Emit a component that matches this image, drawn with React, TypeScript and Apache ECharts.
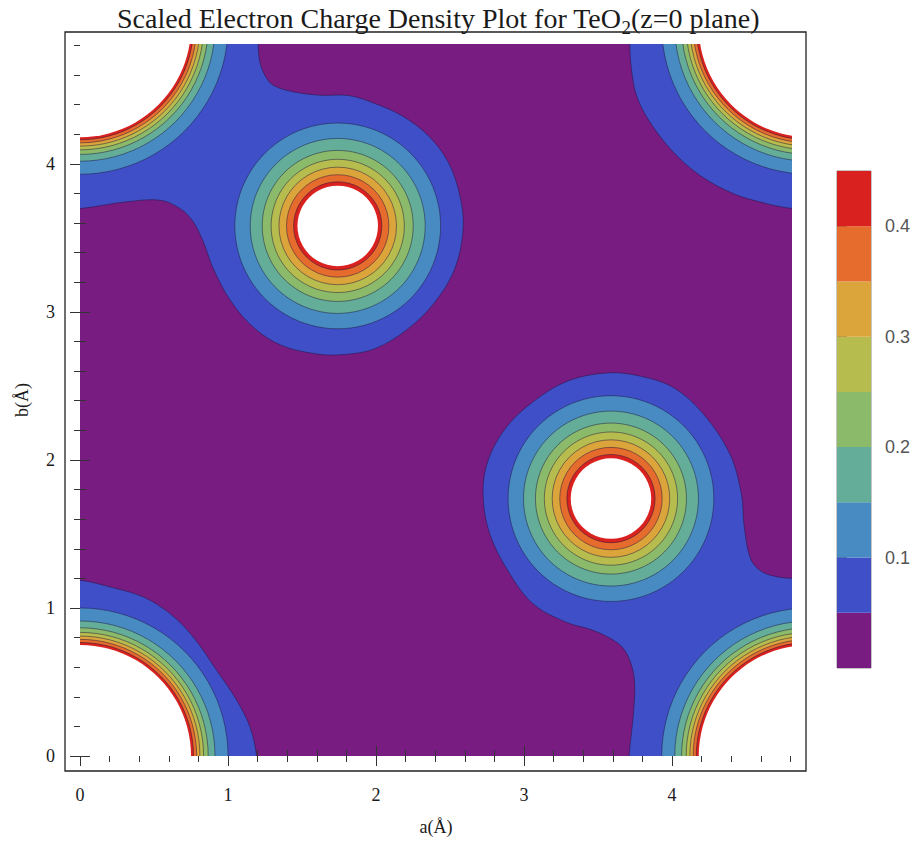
import React, { useEffect, useRef } from "react";
import * as echarts from "echarts";

// ---------- data ----------
const A_MAX = 4.81; // a(Å) range shown
const B_MAX = 4.81; // b(Å) range shown

// contour levels and their fill colours (band i lies between levels[i] and levels[i+1])
const levels = [0, 0.05, 0.1, 0.15, 0.2, 0.25, 0.3, 0.35, 0.4, 0.45];
const bandColors = [
  "#781c81",
  "#3f4fc8",
  "#488bc2",
  "#63ad99",
  "#8bbb6a",
  "#b7bc4e",
  "#dca53c",
  "#e66c2e",
  "#d9211f",
];

// atoms inside the cell (Å) and radii of the contours 0.10 ... 0.45 around them
const atomCenters = [
  [1.741, 3.581],
  [3.587, 1.739],
];
const atomRadii = [0.695, 0.591, 0.51, 0.45, 0.397, 0.346, 0.298, 0.272];

// corner atoms and radii of the contours 0.10 ... 0.45 around them
const cornerCenters = [
  [0, 0],
  [0, 4.93],
  [4.93, 0],
  [4.93, 4.93],
];
const cornerRadii = [1.0, 0.912, 0.866, 0.835, 0.81, 0.788, 0.767, 0.75];

// outlines of the 0.05 contour (regions above 0.05)
const regionTopLeft = [
  [-0.2, 5.1], [1.2, 5.1], [1.204, 4.81], [1.215, 4.689], [1.249, 4.599], [1.305, 4.531],
  [1.44, 4.487], [1.62, 4.464], [1.812, 4.462], [1.969, 4.417], [2.172, 4.327],
  [2.352, 4.192], [2.487, 4.012], [2.566, 3.787], [2.588, 3.562], [2.532, 3.292],
  [2.397, 3.066], [2.217, 2.887], [1.992, 2.752], [1.767, 2.711], [1.587, 2.718],
  [1.362, 2.774], [1.182, 2.887], [1.024, 3.066], [0.9, 3.294], [0.833, 3.474],
  [0.765, 3.609], [0.675, 3.699], [0.54, 3.755], [0.315, 3.744], [0, 3.698], [-0.2, 3.69],
];
const regionBottomRight = [
  [5.1, -0.2], [3.71, -0.2], [3.71, 0], [3.74, 0.3], [3.745, 0.52], [3.7, 0.68],
  [3.63, 0.765], [3.466, 0.849], [3.294, 0.9], [3.066, 1.024], [2.903, 1.232],
  [2.768, 1.502], [2.723, 1.772], [2.757, 1.997], [2.881, 2.222], [3.066, 2.397],
  [3.292, 2.532], [3.562, 2.588], [3.787, 2.566], [4.012, 2.487], [4.209, 2.313],
  [4.389, 2.043], [4.468, 1.772], [4.487, 1.55], [4.531, 1.33], [4.6, 1.25],
  [4.69, 1.215], [4.81, 1.2], [5.1, 1.2],
];
const regionBottomLeft = [
  [-0.2, -0.2], [-0.2, 1.19], [0, 1.187], [0.203, 1.142], [0.428, 1.074], [0.608, 0.962],
  [0.765, 0.804], [0.923, 0.579], [1.058, 0.377], [1.148, 0.197], [1.193, 0], [1.2, -0.2],
];
const regionTopRight = [
  [3.714, 5.1], [3.714, 4.81], [3.725, 4.644], [3.759, 4.464], [3.849, 4.284],
  [4.006, 4.082], [4.186, 3.924], [4.411, 3.8], [4.591, 3.744], [4.81, 3.699],
  [5.1, 3.69], [5.1, 5.1],
];
const lowRegions = [regionTopLeft, regionBottomRight, regionBottomLeft, regionTopRight];

// ticks
const majorTicks = [0, 1, 2, 3, 4];
const minorTicks = [
  0.2, 0.4, 0.6, 0.8, 1.2, 1.4, 1.6, 1.8, 2.2, 2.4, 2.6, 2.8, 3.2, 3.4, 3.6, 3.8, 4.2, 4.4,
  4.6, 4.8,
];
const barTicks = [0.1, 0.2, 0.3, 0.4];

const titleText = "Scaled Electron Charge Density Plot for TeO{s|2}(z=0 plane)";
const xName = "a(Å)";
const yName = "b(Å)";

// ---------- styles ----------
const SERIF = "'Liberation Serif', 'Times New Roman', serif";
const SANS = "'Liberation Sans', Arial, sans-serif";
const INK = "#1a1a1a";
const CONTOUR_LINE = "rgba(30,20,60,0.55)";

function frameAxes(kind: "x" | "y") {
  const axes: any[] = [];
  const positions = kind === "x" ? ["bottom", "top"] : ["left", "right"];
  const offsets = kind === "x" ? [15, 12] : [15, 14];
  positions.forEach((pos, pi) => {
    [majorTicks, minorTicks].forEach((ticks, ti) => {
      const isLabelAxis = pi === 0 && ti === 0;
      axes.push({
        type: "value",
        gridIndex: 0,
        min: 0,
        max: kind === "x" ? A_MAX : B_MAX,
        position: pos,
        offset: offsets[pi],
        axisLine: { show: false },
        splitLine: { show: false },
        axisTick: {
          show: true,
          inside: true,
          length: ti === 0 ? 10 : 6,
          customValues: ticks,
          lineStyle: { color: "#333", width: 1 },
        },
        axisLabel: isLabelAxis
          ? {
              show: true,
              customValues: majorTicks,
              margin: kind === "x" ? 15 : 10,
              fontFamily: SERIF,
              fontSize: 18,
              color: INK,
            }
          : { show: false },
        ...(isLabelAxis
          ? {
              name: kind === "x" ? xName : yName,
              nameLocation: "middle",
              nameGap: kind === "x" ? 47 : 34,
              nameTextStyle: { fontFamily: SERIF, fontSize: 18, color: INK },
            }
          : {}),
      });
    });
  });
  return axes;
}

export default function App() {
  const ref = useRef<HTMLDivElement>(null);

  useEffect(() => {
    if (!ref.current) return;
    const chart = echarts.init(ref.current, null, { renderer: "svg" });

    const circleSeries: any[] = [];
    for (let k = 0; k < atomRadii.length; k++) {
      const data = [
        ...atomCenters.map((c) => [c[0], c[1], atomRadii[k]]),
        ...cornerCenters.map((c) => [c[0], c[1], cornerRadii[k]]),
      ];
      const levelIdx = k + 2; // band above contour
      const isTop = levelIdx === levels.length - 1;
      const fill = isTop ? "#ffffff" : bandColors[levelIdx];
      circleSeries.push({
        type: "custom",
        xAxisIndex: 0,
        yAxisIndex: 0,
        clip: true,
        z: 3 + k,
        silent: true,
        data,
        renderItem: (params: any, api: any) => {
          const c = api.coord([api.value(0), api.value(1)]);
          const r = api.size([api.value(2), 0])[0];
          return {
            type: "circle",
            shape: { cx: c[0], cy: c[1], r },
            style: {
              fill,
              stroke: isTop ? null : CONTOUR_LINE,
              lineWidth: isTop ? 0 : 0.9,
            },
          };
        },
      });
    }

    const option: any = {
      animation: false,
      backgroundColor: "#ffffff",
      title: {
        text: titleText,
        left: 117,
        top: -1,
        padding: 0,
        textStyle: {
          fontFamily: SERIF,
          fontSize: 28,
          fontWeight: "normal",
          color: INK,
          lineHeight: 32,
          rich: {
            s: {
              fontFamily: SERIF,
              fontSize: 19,
              color: INK,
              lineHeight: 38,
              verticalAlign: "bottom",
            },
          },
        },
      },
      grid: [
        {
          left: 80,
          top: 44,
          width: 712,
          height: 712,
          show: true,
          backgroundColor: bandColors[0],
          borderWidth: 0,
          outerBoundsMode: "none",
        },
        {
          left: 65,
          top: 32,
          width: 741,
          height: 739,
          show: true,
          backgroundColor: "transparent",
          borderColor: "#222",
          borderWidth: 1.3,
          outerBoundsMode: "none",
        },
        {
          left: 837,
          top: 171,
          width: 34,
          height: 497,
          show: true,
          backgroundColor: "transparent",
          borderColor: "#8c8c8c",
          borderWidth: 1,
          outerBoundsMode: "none",
        },
      ],
      xAxis: [
        ...frameAxes("x"),
        { type: "value", gridIndex: 2, min: 0, max: 1, show: false },
      ],
      yAxis: [
        ...frameAxes("y"),
        {
          type: "value",
          gridIndex: 2,
          min: 0,
          max: 0.45,
          position: "right",
          axisLine: { show: false },
          splitLine: { show: false },
          axisTick: {
            show: true,
            inside: false,
            length: 10,
            customValues: barTicks,
            lineStyle: { color: "#666", width: 1 },
          },
          axisLabel: {
            show: true,
            customValues: barTicks,
            margin: 14,
            fontFamily: SANS,
            fontSize: 18,
            color: "#555",
          },
        },
      ],
      series: [
        {
          type: "custom",
          xAxisIndex: 0,
          yAxisIndex: 0,
          clip: true,
          z: 2,
          silent: true,
          data: lowRegions.map((r) => [r[0][0], r[0][1]]),
          renderItem: (params: any, api: any) => {
            const pts = lowRegions[params.dataIndex].map((p) => api.coord(p));
            return {
              type: "polygon",
              shape: { points: pts, smooth: 0.35 },
              style: { fill: bandColors[1], stroke: CONTOUR_LINE, lineWidth: 0.9 },
            };
          },
        },
        ...circleSeries,
        {
          type: "custom",
          xAxisIndex: 4,
          yAxisIndex: 4,
          silent: true,
          z: 2,
          data: bandColors.map((_, i) => [levels[i], levels[i + 1]]),
          renderItem: (params: any, api: any) => {
            const p0 = api.coord([0, api.value(0)]);
            const p1 = api.coord([1, api.value(1)]);
            return {
              type: "rect",
              shape: { x: p0[0], y: p1[1], width: p1[0] - p0[0], height: p0[1] - p1[1] },
              style: { fill: bandColors[params.dataIndex] },
            };
          },
        },
      ],
    };

    chart.setOption(option);
    return () => chart.dispose();
  }, []);

  return (
    <div
      ref={ref}
      style={{ position: "fixed", left: 0, top: 0, width: 919, height: 849, background: "#fff" }}
    />
  );
}
